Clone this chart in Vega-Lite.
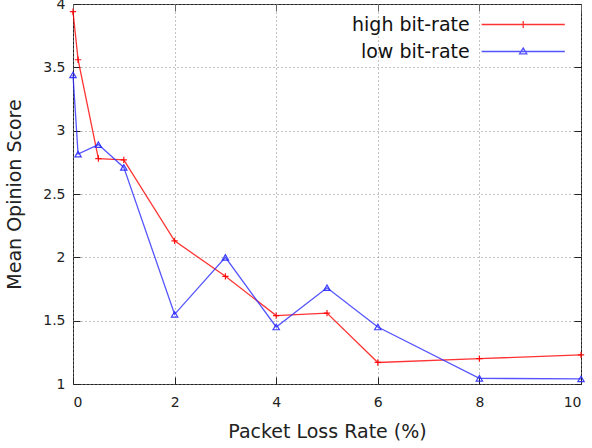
{
  "$schema": "https://vega.github.io/schema/vega-lite/v6.json",
  "width": 508,
  "height": 380,
  "autosize": "none",
  "padding": {"left": 73, "top": 4, "right": 11, "bottom": 64},
  "background": "white",
  "config": {
    "font": "DejaVu Sans",
    "view": {"stroke": "#222", "strokeWidth": 1}
  },
  "data": {
    "values": [
      {"loss": 0, "mos": 3.94, "series": "high bit-rate"},
      {"loss": 0.1, "mos": 3.56, "series": "high bit-rate"},
      {"loss": 0.5, "mos": 2.78, "series": "high bit-rate"},
      {"loss": 1, "mos": 2.77, "series": "high bit-rate"},
      {"loss": 2, "mos": 2.13, "series": "high bit-rate"},
      {"loss": 3, "mos": 1.85, "series": "high bit-rate"},
      {"loss": 4, "mos": 1.54, "series": "high bit-rate"},
      {"loss": 5, "mos": 1.56, "series": "high bit-rate"},
      {"loss": 6, "mos": 1.17, "series": "high bit-rate"},
      {"loss": 8, "mos": 1.2, "series": "high bit-rate"},
      {"loss": 10, "mos": 1.23, "series": "high bit-rate"},
      {"loss": 0, "mos": 3.44, "series": "low bit-rate"},
      {"loss": 0.1, "mos": 2.815, "series": "low bit-rate"},
      {"loss": 0.5, "mos": 2.89, "series": "low bit-rate"},
      {"loss": 1, "mos": 2.71, "series": "low bit-rate"},
      {"loss": 2, "mos": 1.55, "series": "low bit-rate"},
      {"loss": 3, "mos": 2.0, "series": "low bit-rate"},
      {"loss": 4, "mos": 1.45, "series": "low bit-rate"},
      {"loss": 5, "mos": 1.76, "series": "low bit-rate"},
      {"loss": 6, "mos": 1.45, "series": "low bit-rate"},
      {"loss": 8, "mos": 1.045, "series": "low bit-rate"},
      {"loss": 10, "mos": 1.04, "series": "low bit-rate"}
    ]
  },
  "layer": [
    {
      "mark": {"type": "line", "strokeWidth": 1.3, "opacity": 0.8},
      "encoding": {
        "x": {
          "field": "loss", "type": "quantitative",
          "scale": {"domain": [0, 10], "nice": false},
          "axis": {
            "orient": "bottom", "values": [0, 2, 4, 6, 8, 10],
            "title": "Packet Loss Rate (%)",
            "grid": true, "gridDash": [1, 3], "gridColor": "#888", "gridWidth": 1,
            "domain": false, "tickSize": -7, "tickColor": "#222",
            "labelFontSize": 14, "labelColor": "#222", "labelPadding": 18,
            "titleFontSize": 19, "titleFontWeight": "normal", "titleColor": "#222", "titlePadding": 13
          }
        },
        "y": {
          "field": "mos", "type": "quantitative",
          "scale": {"domain": [1, 4], "nice": false, "zero": false},
          "axis": {
            "orient": "left", "values": [1, 1.5, 2, 2.5, 3, 3.5, 4], "format": "~g",
            "title": "Mean Opinion Score",
            "grid": true, "gridDash": [1, 3], "gridColor": "#888", "gridWidth": 1,
            "domain": false, "tickSize": -7, "tickColor": "#222",
            "labelFontSize": 14, "labelColor": "#222", "labelPadding": 15,
            "titleFontSize": 19, "titleFontWeight": "normal", "titleColor": "#222", "titlePadding": 18
          }
        },
        "color": {
          "field": "series", "type": "nominal",
          "scale": {"domain": ["high bit-rate", "low bit-rate"], "range": ["#ff0000", "#2a2aff"]},
          "legend": {
            "title": null, "orient": "none", "legendX": 440.7, "legendY": 11, "padding": 0,
            "labelFontSize": 19, "labelColor": "#111", "labelAlign": "right", "labelOffset": -63,
            "symbolSize": 64, "symbolStrokeWidth": 1.3, "rowPadding": 7
          }
        }
      }
    },
    {
      "transform": [{"filter": "datum.series === 'high bit-rate'"}],
      "mark": {"type": "point", "filled": false, "strokeWidth": 1.2, "opacity": 0.9, "shape": "M-1,0H1M0,-1V1", "size": 40},
      "encoding": {
        "x": {
          "field": "loss", "type": "quantitative",
          "axis": {"orient": "top", "values": [0, 2, 4, 6, 8, 10], "labels": false, "title": null, "grid": false, "domain": false, "tickSize": -7, "tickColor": "#666"}
        },
        "y": {
          "field": "mos", "type": "quantitative",
          "axis": {"orient": "right", "values": [1, 1.5, 2, 2.5, 3, 3.5, 4], "labels": false, "title": null, "grid": false, "domain": false, "tickSize": -7, "tickColor": "#222"}
        },
        "color": {"field": "series", "type": "nominal"}
      }
    },
    {
      "transform": [{"filter": "datum.series === 'low bit-rate'"}],
      "mark": {"type": "point", "filled": false, "strokeWidth": 1.2, "opacity": 0.9, "shape": "triangle-up", "size": 40},
      "encoding": {
        "x": {"field": "loss", "type": "quantitative", "axis": null},
        "y": {"field": "mos", "type": "quantitative", "axis": null},
        "color": {"field": "series", "type": "nominal"}
      }
    },
    {
      "mark": {"type": "point", "filled": false, "strokeWidth": 1.3, "size": 0},
      "encoding": {
        "x": {"field": "loss", "type": "quantitative", "axis": null},
        "y": {"field": "mos", "type": "quantitative", "axis": null},
        "color": {"field": "series", "type": "nominal"},
        "shape": {
          "field": "series", "type": "nominal",
          "scale": {"domain": ["high bit-rate", "low bit-rate"], "range": ["M-10.4,0H10.4M0,-0.85V0.85", "M-10.4,0H10.4M-0.9,0.6L0,-0.9L0.9,0.6Z"]},
          "legend": null
        }
      }
    }
  ],
  "resolve": {"axis": {"x": "independent", "y": "independent"}}
}
